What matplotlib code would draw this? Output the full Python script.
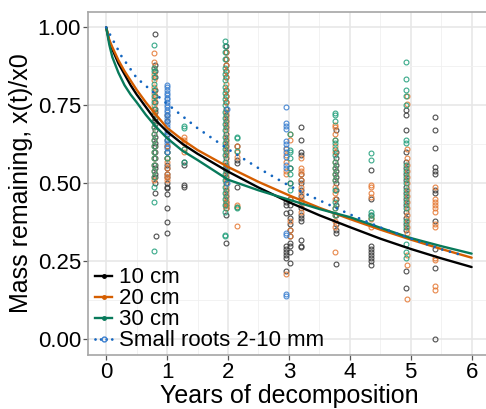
import matplotlib
matplotlib.use("Agg")
import matplotlib.pyplot as plt
from matplotlib.lines import Line2D
from matplotlib.ticker import MultipleLocator

plt.rcParams['font.family'] = ['Liberation Sans', 'DejaVu Sans']

# fitted curves
t_fit = [0, 0.05, 0.1, 0.2, 0.3, 0.4, 0.5, 0.65, 0.8, 1, 1.25, 1.5, 2, 2.5, 3, 3.5, 4, 4.5, 5, 5.5, 6]
fit_10 = [1.0, 0.955, 0.93, 0.885, 0.85, 0.815, 0.785, 0.745, 0.705, 0.666, 0.627, 0.595, 0.538,
          0.487, 0.44, 0.398, 0.36, 0.323, 0.29, 0.26, 0.232]
fit_20 = [1.0, 0.96, 0.937, 0.895, 0.86, 0.83, 0.80, 0.76, 0.724, 0.678, 0.64, 0.607, 0.553,
          0.505, 0.462, 0.422, 0.386, 0.352, 0.32, 0.29, 0.262]
fit_30 = [1.0, 0.945, 0.905, 0.855, 0.815, 0.785, 0.76, 0.72, 0.685, 0.645, 0.605, 0.575, 0.512,
          0.478, 0.448, 0.418, 0.392, 0.358, 0.325, 0.299, 0.275]
t_small = [0, 0.25, 0.5, 0.75, 1, 1.5, 2, 2.5, 3, 3.5, 4, 4.5, 5, 5.5, 5.9]
fit_small = [1.0, 0.908, 0.838, 0.796, 0.755, 0.677, 0.61, 0.549, 0.493, 0.446, 0.401, 0.359,
             0.323, 0.289, 0.267]

# observations: (sampling time, values)
obs_10 = [
    (0.80, [0.98, 0.88, 0.86, 0.84, 0.80, 0.78, 0.76, 0.74, 0.73, 0.71, 0.70, 0.69, 0.67, 0.65,
            0.63, 0.62, 0.60, 0.58, 0.56, 0.55, 0.53, 0.52, 0.50, 0.47]),
    (0.82, [0.33]),
    (1.00, [0.72, 0.70, 0.66, 0.64, 0.62, 0.60, 0.58, 0.56, 0.55, 0.53, 0.52, 0.50, 0.49, 0.485,
            0.465, 0.42, 0.375, 0.34]),
    (1.27, [0.57, 0.56, 0.495, 0.49]),
    (1.97, [0.94, 0.92, 0.90, 0.88, 0.86, 0.84, 0.80, 0.78, 0.76, 0.74, 0.72, 0.70, 0.68, 0.66,
            0.64, 0.62, 0.60, 0.58, 0.56, 0.54, 0.52, 0.50, 0.48, 0.46, 0.44, 0.43, 0.42, 0.40, 0.31]),
    (2.15, [0.62, 0.575, 0.565, 0.49]),
    (2.95, [0.44, 0.43, 0.405, 0.30, 0.29, 0.28, 0.27, 0.26, 0.22]),
    (3.02, [0.55, 0.50, 0.45, 0.43, 0.41, 0.39, 0.37, 0.35, 0.33, 0.31, 0.30, 0.28, 0.245]),
    (3.20, [0.68, 0.64, 0.60, 0.59, 0.53, 0.51, 0.50, 0.48, 0.46, 0.44, 0.42, 0.40, 0.39, 0.38,
            0.32, 0.30, 0.295]),
    (3.77, [0.67, 0.60, 0.58, 0.56, 0.54, 0.52, 0.50, 0.48, 0.45, 0.43, 0.40, 0.37, 0.35, 0.34, 0.243]),
    (4.35, [0.543, 0.45, 0.40, 0.30, 0.29, 0.28, 0.27, 0.26, 0.25, 0.24]),
    (4.93, [0.735, 0.72, 0.67, 0.60, 0.57, 0.55, 0.53, 0.51, 0.49, 0.47, 0.45, 0.43, 0.41, 0.39,
            0.37, 0.35, 0.218, 0.165]),
    (5.40, [0.713, 0.67, 0.615, 0.553, 0.54, 0.53, 0.48, 0.47, 0.38, 0.29, 0.23, 0.0]),
]
obs_20 = [
    (0.79, [0.917, 0.89, 0.87, 0.85, 0.83, 0.81, 0.79, 0.77, 0.75, 0.73, 0.72, 0.70, 0.68, 0.66,
            0.64, 0.62, 0.60, 0.58, 0.56, 0.54, 0.52, 0.51]),
    (1.00, [0.62, 0.60, 0.58, 0.57, 0.55, 0.53, 0.52, 0.51]),
    (1.27, [0.65, 0.64, 0.63, 0.61, 0.60]),
    (1.96, [0.92, 0.90, 0.88, 0.86, 0.84, 0.82, 0.80, 0.78, 0.76, 0.73, 0.71, 0.69, 0.67, 0.65,
            0.63, 0.61, 0.59, 0.57, 0.55, 0.53, 0.51, 0.49, 0.47, 0.45, 0.44, 0.43, 0.42]),
    (2.15, [0.62, 0.60, 0.585, 0.43, 0.425, 0.365]),
    (2.95, [0.61, 0.59, 0.57, 0.54, 0.53, 0.21]),
    (3.02, [0.66, 0.64, 0.45, 0.38, 0.35, 0.33]),
    (3.20, [0.58, 0.55, 0.54, 0.53, 0.51, 0.49, 0.47, 0.45, 0.43, 0.41]),
    (3.76, [0.687, 0.68, 0.66, 0.64, 0.62, 0.60, 0.57, 0.55, 0.53, 0.51, 0.49, 0.47, 0.45, 0.42,
            0.40, 0.38, 0.36, 0.28]),
    (4.35, [0.495, 0.49, 0.47, 0.455, 0.39, 0.385, 0.36]),
    (4.94, [0.78, 0.755, 0.61, 0.58, 0.56, 0.54, 0.52, 0.50, 0.48, 0.46, 0.44, 0.42, 0.40, 0.38,
            0.36, 0.34, 0.27, 0.24, 0.13]),
    (5.40, [0.49, 0.45, 0.44, 0.43, 0.42, 0.41, 0.37, 0.36, 0.26, 0.255, 0.17, 0.16]),
]
obs_30 = [
    (0.78, [0.945, 0.87, 0.86, 0.84, 0.82, 0.80, 0.78, 0.76, 0.74, 0.72, 0.70, 0.68, 0.66, 0.64,
            0.62, 0.60, 0.58, 0.56, 0.54, 0.52, 0.49, 0.44, 0.285]),
    (1.00, [0.60, 0.58]),
    (1.27, [0.684, 0.677, 0.61, 0.57]),
    (1.95, [0.955, 0.94, 0.92, 0.90, 0.87, 0.85, 0.83, 0.81, 0.79, 0.77, 0.75, 0.73, 0.71, 0.69,
            0.67, 0.65, 0.63, 0.61, 0.59, 0.57, 0.55, 0.53, 0.51, 0.49, 0.47, 0.45, 0.43, 0.41,
            0.335, 0.33]),
    (2.15, [0.65, 0.645, 0.605, 0.426, 0.42]),
    (3.02, [0.66, 0.607, 0.60, 0.58, 0.55, 0.53, 0.50, 0.48]),
    (3.75, [0.726, 0.72, 0.70, 0.64, 0.63, 0.61, 0.59, 0.57, 0.55, 0.53, 0.51, 0.48, 0.44, 0.42, 0.40]),
    (4.35, [0.596, 0.575, 0.41, 0.40, 0.39]),
    (4.92, [0.89, 0.836, 0.80, 0.78, 0.75, 0.64, 0.63, 0.56, 0.54, 0.52, 0.50, 0.48, 0.46, 0.44,
            0.42, 0.38, 0.36, 0.305, 0.28, 0.26]),
]
obs_small = [
    (0.99, [0.815, 0.81, 0.80, 0.79, 0.785, 0.775, 0.77, 0.76, 0.75, 0.745, 0.735, 0.73, 0.72,
            0.71, 0.70, 0.69, 0.68, 0.665, 0.655, 0.64, 0.63, 0.615, 0.60]),
    (1.98, [0.74, 0.55, 0.50]),
    (2.95, [0.745, 0.695, 0.685, 0.675, 0.635, 0.625, 0.615, 0.60, 0.585, 0.56, 0.55, 0.34,
            0.335, 0.145, 0.14]),
]

labels = ['10 cm', '20 cm', '30 cm', 'Small roots 2-10 mm']
line_cols = ['#000000', '#D55E00', '#087A5B', '#1466C0']
pt_cols = ['#3a3a3a', '#E57A35', '#23A07C', '#3A7FD0']

fig = plt.figure(figsize=(4.86, 4.09), dpi=100)
ax = fig.add_axes([0.181, 0.132, 0.827, 0.839])

for obs, c in zip([obs_10, obs_20, obs_30, obs_small], pt_cols):
    for t, vals in obs:
        ax.plot([t] * len(vals), vals, 'o', ms=3.5, mfc='none', mec=c, mew=0.8, alpha=0.9,
                zorder=2, clip_on=False)

for y, c in zip([fit_10, fit_20, fit_30], line_cols[:3]):
    ax.plot(t_fit, y, color=c, lw=1.7, zorder=3, solid_capstyle='round')
ax.plot(t_small, fit_small, color=line_cols[3], lw=2.0, zorder=3,
        dashes=(0.01, 2.9), dash_capstyle='round')

ax.set_xlim(-0.3, 6.3)
ax.set_ylim(-0.05, 1.05)
ax.xaxis.set_major_locator(MultipleLocator(1))
ax.xaxis.set_minor_locator(MultipleLocator(0.5))
ax.yaxis.set_minor_locator(MultipleLocator(0.125))
ax.set_yticks([0, 0.25, 0.5, 0.75, 1.0])
ax.set_yticklabels(['0.00', '0.25', '0.50', '0.75', '1.00'])
ax.grid(which='major', color='#E6E6E6', lw=1.1, zorder=0)
ax.grid(which='minor', color='#F0F0F0', lw=0.6, zorder=0)
ax.set_axisbelow(True)
for s in ax.spines.values():
    s.set_color('#A6A6A6')
    s.set_linewidth(1.2)
ax.tick_params(which='major', length=3.5, width=0.9, color='#555555', labelsize=16,
               labelcolor='black', pad=1.5)
ax.tick_params(which='minor', length=0)
ax.set_xlabel('Years of decomposition', fontsize=18, labelpad=1)
ax.set_ylabel('Mass remaining, x(t)/x0', fontsize=18, labelpad=3)

handles = []
for i, lab in enumerate(labels):
    if i < 3:
        h = Line2D([], [], color=line_cols[i], lw=1.7, marker='o', ms=2.5, mfc=line_cols[i])
    else:
        h = Line2D([], [], color=line_cols[i], lw=2.0, dashes=(0.01, 2.0), dash_capstyle='round',
                   marker='o', ms=3.5, mfc='none', mec=pt_cols[i])
    handles.append(h)
ax.legend(handles, labels, loc='lower left', bbox_to_anchor=(-0.02, -0.035), frameon=False,
          fontsize=16, handlelength=0.75, handletextpad=0.3, labelspacing=0.0,
          borderpad=0.2)

fig.savefig('out.png', dpi=100)
